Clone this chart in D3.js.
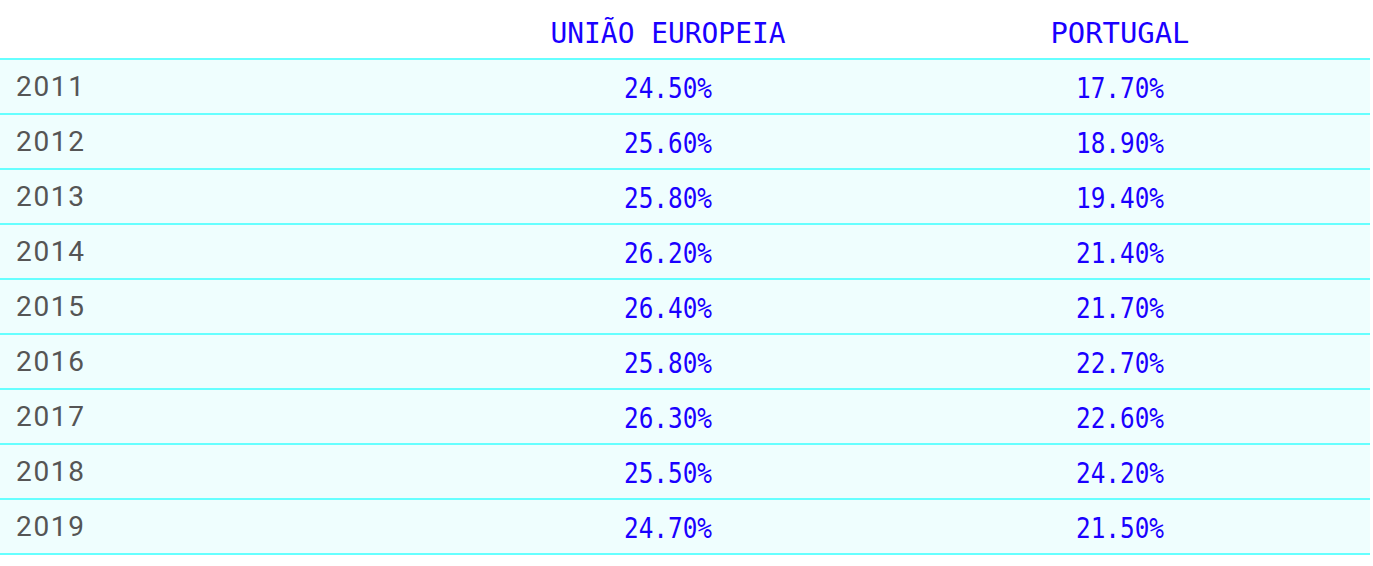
<!DOCTYPE html><html><head><meta charset="utf-8">
<script src="https://cdn.jsdelivr.net/npm/d3@7"></script>
<style>body{margin:0;background:#fff}</style></head><body><svg id="c" width="1373" height="566"></svg>
<script>
const years=["2011","2012","2013","2014","2015","2016","2017","2018","2019"];
const columns=["UNIÃO EUROPEIA","PORTUGAL"];
const ue=["24.50%","25.60%","25.80%","26.20%","26.40%","25.80%","26.30%","25.50%","24.70%"];
const pt=["17.70%","18.90%","19.40%","21.40%","21.70%","22.70%","22.60%","24.20%","21.50%"];
const svg=d3.select("#c");
const y=d3.scaleBand().domain(years).range([59,554]);
const x=d3.scaleOrdinal().domain(columns).range([668,1120]);
const mono="'DejaVu Sans Mono',monospace";
svg.selectAll("text.h").data(columns).enter().append("text").attr("x",d=>x(d)).attr("y",43)
 .attr("text-anchor","middle").attr("fill","#1a00ff").attr("font-family",mono).attr("font-size",29)
 .attr("textLength",d=>d.length>8?235:139).attr("lengthAdjust","spacingAndGlyphs").text(d=>d);
const g=svg.selectAll("g.r").data(years).enter().append("g").attr("transform",d=>`translate(0,${y(d)})`);
g.append("rect").attr("width",1370).attr("height",y.bandwidth()).attr("fill","#effefe");
g.append("text").attr("x",16).attr("y",37).attr("fill","#555").attr("font-family","Roboto,sans-serif").attr("font-size",28)
 .attr("textLength",68).text(d=>d);
g.append("text").attr("x",x(columns[0])).attr("y",39).attr("text-anchor","middle").attr("fill","#1a00ff")
 .attr("font-family",mono).attr("font-size",29).attr("textLength",88).attr("lengthAdjust","spacingAndGlyphs").text((d,i)=>ue[i]);
g.append("text").attr("x",x(columns[1])).attr("y",39).attr("text-anchor","middle").attr("fill","#1a00ff")
 .attr("font-family",mono).attr("font-size",29).attr("textLength",88).attr("lengthAdjust","spacingAndGlyphs").text((d,i)=>pt[i]);
svg.selectAll("line").data(years.concat(["end"])).enter().append("line").attr("x1",0).attr("x2",1370)
 .attr("y1",(d,i)=>59+i*y.step()).attr("y2",(d,i)=>59+i*y.step()).attr("stroke","#66ffff").attr("stroke-width",2);
</script></body></html>
